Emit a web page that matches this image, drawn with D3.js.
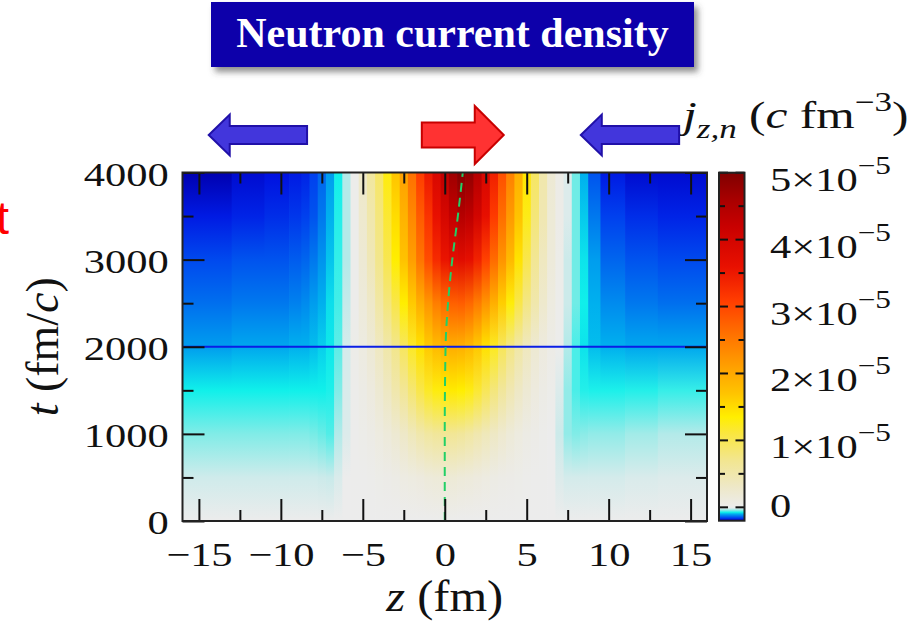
<!DOCTYPE html>
<html>
<head>
<meta charset="utf-8">
<script src="https://cdn.jsdelivr.net/npm/d3@7"></script>
<style>
  body { margin: 0; background: #fff; }
  svg { display: block; }
</style>
</head>
<body>
<svg id="fig" width="912" height="627"></svg>
<script>
/* ---- data ---- */
// z grid (fm), one column per value
var zVals = [-16, -14, -12, -10, -9, -8.5, -8, -7.5, -7, -6.5, -6, -5.5, -5, -4.5, -4, -3.5, -3, -2.5, -2, -1.5, -1, -0.5,
             0, 0.5, 1, 1.5, 2, 2.5, 3, 3.5, 4, 4.5, 5, 5.5, 6, 6.5, 7, 7.5, 8, 8.5, 9, 10, 12, 14, 16];
// time rows (fm/c)
var tVals = [0, 500, 1000, 1500, 2000, 2500, 3000, 3500, 4000];
// j_z,n in units of 1e-5 c fm^-3, one row per time, one value per z column
var jz = [
  [0,0,0,0, 0,0,0,0,0,0,0,0,0,0,0,0,0,0,0,0,0,0,0,0,0,0,0,0,0,0,0,0,0,0,0,0,0,0,0,0,0, 0,0,0,0],
  [-0.018,-0.018,-0.018,-0.018, -0.018,-0.018,-0.018,-0.02,-0.022,-0.012,0,0.005,0.01,0.02,0.03,0.045,0.06,0.08,0.1,0.12,0.15,0.17,
   0.18,0.18,0.16,0.14,0.12,0.09,0.07,0.05,0.04,0.03,0.02,0.01,0.005,0,-0.01,-0.015,-0.015,-0.015,-0.015, -0.015,-0.012,-0.01,-0.01],
  [-0.045,-0.045,-0.045,-0.045, -0.045,-0.045,-0.048,-0.052,-0.058,-0.03,-0.01,0.01,0.03,0.06,0.1,0.15,0.22,0.3,0.4,0.5,0.58,0.63,
   0.66,0.66,0.62,0.56,0.48,0.4,0.32,0.24,0.17,0.11,0.07,0.04,0.02,0,-0.02,-0.04,-0.045,-0.042,-0.04, -0.04,-0.035,-0.03,-0.03],
  [-0.075,-0.075,-0.075,-0.075, -0.075,-0.075,-0.075,-0.075,-0.072,-0.045,-0.012,0.02,0.06,0.12,0.22,0.34,0.5,0.66,0.85,1.05,1.2,1.3,
   1.36,1.38,1.35,1.28,1.15,0.98,0.8,0.62,0.46,0.32,0.21,0.12,0.06,0.025,-0.01,-0.04,-0.06,-0.07,-0.072, -0.072,-0.07,-0.065,-0.065],
  [-0.11,-0.11,-0.105,-0.105, -0.1,-0.1,-0.095,-0.088,-0.078,-0.055,-0.015,0.03,0.1,0.2,0.35,0.52,0.72,0.95,1.2,1.45,1.65,1.8,
   1.9,1.95,1.92,1.82,1.66,1.46,1.22,0.97,0.75,0.54,0.37,0.22,0.12,0.05,0.01,-0.03,-0.06,-0.08,-0.095, -0.1,-0.105,-0.105,-0.105],
  [-0.135,-0.135,-0.13,-0.13, -0.125,-0.12,-0.11,-0.1,-0.082,-0.062,-0.025,0.02,0.15,0.3,0.55,0.8,1.05,1.35,1.65,1.95,2.2,2.45,
   2.65,2.75,2.78,2.68,2.48,2.22,1.92,1.62,1.32,1.05,0.76,0.5,0.26,0.1,0.02,-0.02,-0.05,-0.075,-0.1, -0.12,-0.13,-0.135,-0.135],
  [-0.155,-0.155,-0.15,-0.15, -0.145,-0.14,-0.13,-0.115,-0.092,-0.066,-0.03,0.02,0.2,0.42,0.72,1.02,1.35,1.72,2.12,2.55,2.95,3.3,
   3.55,3.7,3.75,3.65,3.4,3.05,2.65,2.22,1.82,1.44,1.04,0.67,0.36,0.15,0.03,-0.02,-0.05,-0.08,-0.11, -0.14,-0.15,-0.155,-0.155],
  [-0.18,-0.18,-0.175,-0.17, -0.165,-0.16,-0.15,-0.13,-0.1,-0.07,-0.03,0.02,0.25,0.5,0.8,1.15,1.5,1.9,2.35,2.8,3.2,3.6,
   3.95,4.25,4.42,4.32,4.02,3.62,3.12,2.62,2.16,1.72,1.26,0.82,0.46,0.18,0.04,-0.01,-0.05,-0.09,-0.13, -0.16,-0.17,-0.175,-0.175],
  [-0.2,-0.2,-0.19,-0.185, -0.18,-0.175,-0.16,-0.14,-0.11,-0.075,-0.03,0.02,0.3,0.6,0.9,1.3,1.7,2.1,2.6,3.1,3.5,3.9,
   4.3,4.7,4.95,4.82,4.42,3.92,3.42,2.92,2.42,1.92,1.42,0.92,0.5,0.2,0.05,-0.01,-0.05,-0.1,-0.15, -0.18,-0.19,-0.19,-0.19]
];
// path of the peak (green dashed line): [t, z]
var peakPath = [[0, 0], [1000, 0], [2000, 0.05], [2500, 0.2], [3000, 0.46], [3500, 0.8], [4000, 1.1]];
var markTime = 2000;               // blue horizontal line
var xTicks = [-15, -10, -5, 0, 5, 10, 15];
var xMinor = [-12.5, -7.5, -2.5, 2.5, 7.5, 12.5];
var yTicks = [0, 1000, 2000, 3000, 4000];
var yMinor = [500, 1500, 2500, 3500];
var cbTicks = [0, 1, 2, 3, 4, 5];
var cbMinor = [0.5, 1.5, 2.5, 3.5, 4.5];
// flow arrows above the map: tail and tip in z (fm)
var arrows = [
  {from: -8.4, to: -14.4, kind: 'blue'},
  {from: -1.4, to: 3.6, kind: 'red'},
  {from: 14.3, to: 8.3, kind: 'blue'}
];

/* ---- colour map (style) ---- */
var cmapVals = [-0.2, -0.185, -0.16, -0.13, -0.1, -0.075, -0.05, -0.025, 0, 0.3, 0.7, 1.1, 1.35, 1.7, 2.1, 2.6, 3.1, 3.6, 4.2, 4.6, 5.0];
var cmapCols = ['#0000b0', '#0010e0', '#0040ee', '#0078ee', '#00b0ee', '#10f0ea', '#70ece6', '#c4eaea', '#ececec',
                '#eee8c8', '#f2e690', '#fae640', '#ffee00', '#ffc400', '#ffa000', '#ff7000', '#ff3c00', '#e81000',
                '#c80000', '#a80000', '#800000'];
var color = d3.scaleLinear().domain(cmapVals).range(cmapCols).clamp(true);

var serif = '"Liberation Serif", "Times New Roman", serif';
var sx = 1.25;   // the figure is stretched sideways

var svg = d3.select('#fig');
var defs = svg.append('defs');

var x = d3.scaleLinear().domain([-16, 16]).range([182.5, 707]);
var y = d3.scaleLinear().domain([0, 4000]).range([521, 172.5]);

/* ---- heat map: one column per z, vertical gradient through the time rows ---- */
var edges = zVals.map(function (z, i) {
  var lo = i === 0 ? -16 : (zVals[i - 1] + z) / 2;
  var hi = i === zVals.length - 1 ? 16 : (z + zVals[i + 1]) / 2;
  return [lo, hi];
});

zVals.forEach(function (z, i) {
  var g = defs.append('linearGradient')
    .attr('id', 'col' + i)
    .attr('gradientUnits', 'userSpaceOnUse')
    .attr('x1', 0).attr('x2', 0)
    .attr('y1', y(0)).attr('y2', y(4000));
  tVals.forEach(function (t, k) {
    g.append('stop').attr('offset', t / 4000).attr('stop-color', color(jz[k][i]));
  });
});

svg.append('g').selectAll('rect')
  .data(zVals)
  .enter().append('rect')
    .attr('x', function (d, i) { return x(edges[i][0]); })
    .attr('width', function (d, i) { return x(edges[i][1]) - x(edges[i][0]) + (i < zVals.length - 1 ? 0.7 : 0); })
    .attr('y', y(4000))
    .attr('height', y(0) - y(4000))
    .attr('fill', function (d, i) { return 'url(#col' + i + ')'; });

// blue line at t = 2000
svg.append('line')
  .attr('x1', x(-16)).attr('x2', x(16))
  .attr('y1', y(markTime)).attr('y2', y(markTime))
  .attr('stroke', '#0a1ee6').attr('stroke-width', 2.2);

// green dashed line following the peak
svg.append('path')
  .datum(peakPath)
  .attr('d', d3.line().x(function (d) { return x(d[1]); }).y(function (d) { return y(d[0]); }).curve(d3.curveMonotoneY))
  .attr('fill', 'none')
  .attr('stroke', '#22d066').attr('stroke-width', 2)
  .attr('stroke-dasharray', '9,6');

/* ---- axes ---- */
function styleAxis(g) {
  g.select('.domain').remove();
  g.selectAll('.tick line').attr('stroke', '#111').attr('stroke-width', 2);
  g.selectAll('text').attr('font-family', serif).attr('font-size', 34).attr('fill', '#111');
}

svg.append('g').attr('transform', 'translate(0,' + y(0) + ')')
  .call(d3.axisBottom(x).tickValues(xTicks).tickSize(-22).tickPadding(21))
  .call(styleAxis)
  .selectAll('text').attr('transform', 'scale(' + sx + ',1)');
svg.append('g').attr('transform', 'translate(0,' + y(0) + ')')
  .call(d3.axisBottom(x).tickValues(xMinor).tickSize(-11).tickFormat(''))
  .call(styleAxis);
svg.append('g').attr('transform', 'translate(0,' + y(4000) + ')')
  .call(d3.axisTop(x).tickValues(xTicks).tickSize(-22).tickFormat(''))
  .call(styleAxis);
svg.append('g').attr('transform', 'translate(0,' + y(4000) + ')')
  .call(d3.axisTop(x).tickValues(xMinor).tickSize(-11).tickFormat(''))
  .call(styleAxis);

svg.append('g').attr('transform', 'translate(' + x(-16) + ',0)')
  .call(d3.axisLeft(y).tickValues(yTicks).tickSize(-22).tickPadding(11).tickFormat(d3.format('d')))
  .call(styleAxis)
  .selectAll('text').attr('transform', 'scale(' + sx + ',1)').attr('dy', '0.38em');
svg.append('g').attr('transform', 'translate(' + x(-16) + ',0)')
  .call(d3.axisLeft(y).tickValues(yMinor).tickSize(-11).tickFormat(''))
  .call(styleAxis);
svg.append('g').attr('transform', 'translate(' + x(16) + ',0)')
  .call(d3.axisRight(y).tickValues(yTicks).tickSize(-22).tickFormat(''))
  .call(styleAxis);
svg.append('g').attr('transform', 'translate(' + x(16) + ',0)')
  .call(d3.axisRight(y).tickValues(yMinor).tickSize(-11).tickFormat(''))
  .call(styleAxis);

// frame
svg.append('rect')
  .attr('x', x(-16)).attr('y', y(4000))
  .attr('width', x(16) - x(-16)).attr('height', y(0) - y(4000))
  .attr('fill', 'none').attr('stroke', '#222').attr('stroke-width', 2);

// axis titles
var xt = svg.append('g').attr('transform', 'translate(' + x(0) + ',611) scale(1.1,1)')
  .append('text').attr('text-anchor', 'middle')
  .attr('font-family', serif).attr('font-size', 44).attr('fill', '#111');
xt.append('tspan').attr('font-style', 'italic').text('z');
xt.append('tspan').text(' (fm)');

var yt = svg.append('g').attr('transform', 'translate(58,' + y(2000) + ') rotate(-90)')
  .append('text').attr('text-anchor', 'middle')
  .attr('font-family', serif).attr('font-size', 46).attr('fill', '#111');
yt.append('tspan').attr('font-style', 'italic').text('t');
yt.append('tspan').text(' (fm/');
yt.append('tspan').attr('font-style', 'italic').text('c');
yt.append('tspan').text(')');

/* ---- colour bar ---- */
var cbX = 719, cbW = 25.5;
var cy = d3.scaleLinear().domain([-0.2, 5]).range([520.7, 172.7]);

var cbGrad = defs.append('linearGradient')
  .attr('id', 'cbgrad').attr('gradientUnits', 'userSpaceOnUse')
  .attr('x1', 0).attr('x2', 0).attr('y1', cy(-0.2)).attr('y2', cy(5));
cmapVals.forEach(function (v, i) {
  cbGrad.append('stop').attr('offset', (v + 0.2) / 5.2).attr('stop-color', cmapCols[i]);
});
svg.append('rect')
  .attr('x', cbX).attr('y', cy(5)).attr('width', cbW).attr('height', cy(-0.2) - cy(5))
  .attr('fill', 'url(#cbgrad)');

function cbTickLines(vals, len) {
  var g = svg.append('g').attr('stroke', '#111').attr('stroke-width', 2);
  g.selectAll('.l').data(vals).enter().append('line')
    .attr('x1', cbX).attr('x2', cbX + len).attr('y1', cy).attr('y2', cy);
  g.selectAll('.r').data(vals).enter().append('line')
    .attr('x1', cbX + cbW - len).attr('x2', cbX + cbW).attr('y1', cy).attr('y2', cy);
}
cbTickLines(cbTicks, 9);
cbTickLines(cbMinor, 6);

svg.append('rect')
  .attr('x', cbX).attr('y', cy(5)).attr('width', cbW).attr('height', cy(-0.2) - cy(5))
  .attr('fill', 'none').attr('stroke', '#222').attr('stroke-width', 2);

var cbLab = svg.append('g').selectAll('g')
  .data(cbTicks)
  .enter().append('g')
    .attr('transform', function (d) { return 'translate(770,' + (cy(d) + (d === 0 ? 10 : 18)) + ') scale(' + sx + ',1)'; })
  .append('text')
    .attr('font-family', serif).attr('font-size', 34).attr('fill', '#111');
cbLab.append('tspan').text(function (d) { return d === 0 ? '0' : d + '\u00d710'; });
cbLab.filter(function (d) { return d !== 0; })
  .append('tspan').attr('font-size', 25).attr('dy', -17).text('\u22125');

// colour bar title: j_{z,n} (c fm^-3)
var cbt = svg.append('g').attr('transform', 'translate(683,128) scale(1.3,1)')
  .append('text').attr('font-family', serif).attr('font-size', 38).attr('fill', '#111');
cbt.append('tspan').attr('font-style', 'italic').text('j');
cbt.append('tspan').attr('font-style', 'italic').attr('font-size', 27).attr('dy', 10).text('z,n');
cbt.append('tspan').attr('dy', -10).text(' (');
cbt.append('tspan').attr('font-style', 'italic').text('c');
cbt.append('tspan').text(' fm');
cbt.append('tspan').attr('font-size', 27).attr('dy', -17).text('\u22123');
cbt.append('tspan').attr('dy', 17).text(')');

/* ---- arrows ---- */
var arrowStyle = {
  blue: {fill: '#4236dc', stroke: '#2010a8', shaft: 18, head: 41, headLen: 21},
  red:  {fill: '#ff3232', stroke: '#c80000', shaft: 25, head: 58, headLen: 29}
};
function arrowPoints(d) {
  var s = arrowStyle[d.kind];
  var x0 = x(d.from), x1 = x(d.to), dir = x1 > x0 ? 1 : -1;
  var yc = 135, xh = x1 - dir * s.headLen;
  return [[x0, yc - s.shaft / 2], [xh, yc - s.shaft / 2], [xh, yc - s.head / 2], [x1, yc],
          [xh, yc + s.head / 2], [xh, yc + s.shaft / 2], [x0, yc + s.shaft / 2]]
    .map(function (p) { return p.join(','); }).join(' ');
}
svg.append('g').selectAll('polygon')
  .data(arrows)
  .enter().append('polygon')
    .attr('points', arrowPoints)
    .attr('fill', function (d) { return arrowStyle[d.kind].fill; })
    .attr('stroke', function (d) { return arrowStyle[d.kind].stroke; })
    .attr('stroke-width', 2)
    .attr('stroke-linejoin', 'miter');

/* ---- title box ---- */
var shadow = defs.append('filter').attr('id', 'shadow')
  .attr('x', '-5%').attr('y', '-10%').attr('width', '115%').attr('height', '140%');
shadow.append('feDropShadow')
  .attr('dx', 4).attr('dy', 5).attr('stdDeviation', 3)
  .attr('flood-color', '#444').attr('flood-opacity', 0.6);

svg.append('rect')
  .attr('x', 211).attr('y', 2).attr('width', 483).attr('height', 65)
  .attr('fill', '#1000aa')
  .attr('filter', 'url(#shadow)');
svg.append('text')
  .attr('x', 452.5).attr('y', 47)
  .attr('text-anchor', 'middle')
  .attr('font-family', serif).attr('font-weight', 'bold').attr('font-size', 42)
  .attr('fill', '#fff')
  .text('Neutron current density');

// red text cut off at the left edge of the slide
svg.append('text')
  .attr('x', 9).attr('y', 234)
  .attr('text-anchor', 'end')
  .attr('font-family', '"Liberation Sans", Arial, sans-serif').attr('font-size', 46)
  .attr('fill', '#ff0000')
  .text('t');
</script>
</body>
</html>
